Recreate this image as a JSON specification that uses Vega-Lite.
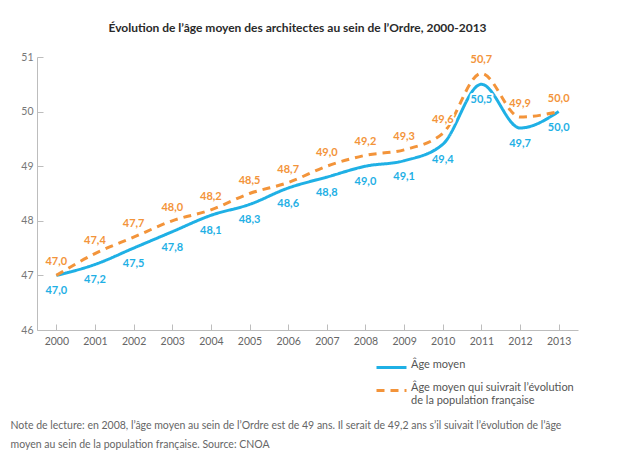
{
  "$schema": "https://vega.github.io/schema/vega-lite/v6.json",
  "width": 541,
  "height": 273,
  "autosize": {"type": "none"},
  "padding": {"left": 37, "top": 57, "right": 42, "bottom": 135},
  "background": "white",
  "title": {
    "text": "Évolution de l’âge moyen des architectes au sein de l’Ordre, 2000-2013",
    "anchor": "middle",
    "dx": -10,
    "offset": 17,
    "font": "Lato",
    "fontSize": 12,
    "fontWeight": "bold",
    "color": "#2a2a2a"
  },
  "config": {
    "view": {"stroke": null},
    "locale": {"number": {"decimal": ",", "thousands": " ", "grouping": [3], "currency": ["", " €"]}},
    "font": "Lato"
  },
  "data": {
    "values": [
      {"annee": "2000", "serie": "Âge moyen", "valeur": 47.0},
      {"annee": "2001", "serie": "Âge moyen", "valeur": 47.2},
      {"annee": "2002", "serie": "Âge moyen", "valeur": 47.5},
      {"annee": "2003", "serie": "Âge moyen", "valeur": 47.8},
      {"annee": "2004", "serie": "Âge moyen", "valeur": 48.1},
      {"annee": "2005", "serie": "Âge moyen", "valeur": 48.3},
      {"annee": "2006", "serie": "Âge moyen", "valeur": 48.6},
      {"annee": "2007", "serie": "Âge moyen", "valeur": 48.8},
      {"annee": "2008", "serie": "Âge moyen", "valeur": 49.0},
      {"annee": "2009", "serie": "Âge moyen", "valeur": 49.1},
      {"annee": "2010", "serie": "Âge moyen", "valeur": 49.4},
      {"annee": "2011", "serie": "Âge moyen", "valeur": 50.5},
      {"annee": "2012", "serie": "Âge moyen", "valeur": 49.7},
      {"annee": "2013", "serie": "Âge moyen", "valeur": 50.0},
      {"annee": "2000", "serie": "Âge moyen qui suivrait l’évolution de la population française", "valeur": 47.0},
      {"annee": "2001", "serie": "Âge moyen qui suivrait l’évolution de la population française", "valeur": 47.4},
      {"annee": "2002", "serie": "Âge moyen qui suivrait l’évolution de la population française", "valeur": 47.7},
      {"annee": "2003", "serie": "Âge moyen qui suivrait l’évolution de la population française", "valeur": 48.0},
      {"annee": "2004", "serie": "Âge moyen qui suivrait l’évolution de la population française", "valeur": 48.2},
      {"annee": "2005", "serie": "Âge moyen qui suivrait l’évolution de la population française", "valeur": 48.5},
      {"annee": "2006", "serie": "Âge moyen qui suivrait l’évolution de la population française", "valeur": 48.7},
      {"annee": "2007", "serie": "Âge moyen qui suivrait l’évolution de la population française", "valeur": 49.0},
      {"annee": "2008", "serie": "Âge moyen qui suivrait l’évolution de la population française", "valeur": 49.2},
      {"annee": "2009", "serie": "Âge moyen qui suivrait l’évolution de la population française", "valeur": 49.3},
      {"annee": "2010", "serie": "Âge moyen qui suivrait l’évolution de la population française", "valeur": 49.6},
      {"annee": "2011", "serie": "Âge moyen qui suivrait l’évolution de la population française", "valeur": 50.7},
      {"annee": "2012", "serie": "Âge moyen qui suivrait l’évolution de la population française", "valeur": 49.9},
      {"annee": "2013", "serie": "Âge moyen qui suivrait l’évolution de la population française", "valeur": 50.0}
    ]
  },
  "encoding": {
    "x": {
      "field": "annee",
      "type": "ordinal",
      "scale": {"type": "point", "padding": 0.5},
      "axis": {
        "labelAngle": 0,
        "domainColor": "#bdbdbd",
        "tickColor": "#bdbdbd",
        "tickSize": -6,
        "labelColor": "#666666",
        "labelFontSize": 10.5,
        "labelPadding": 12,
        "title": [
          "Note de lecture: en 2008, l’âge moyen au sein de l’Ordre est de 49 ans. Il serait de 49,2 ans s’il suivait l’évolution de l’âge",
          "moyen au sein de la population française. Source: CNOA"
        ],
        "titleAnchor": "start",
        "titleAlign": "left",
        "titleBaseline": "top",
        "titleX": -27,
        "titleY": 90,
        "titleFontWeight": "normal",
        "titleFontSize": 10.5,
        "titleColor": "#666666",
        "titleLineHeight": 19
      }
    },
    "y": {
      "field": "valeur",
      "type": "quantitative",
      "scale": {"domain": [46, 51], "nice": false, "zero": false},
      "axis": {
        "values": [46, 47, 48, 49, 50, 51],
        "grid": false,
        "title": null,
        "domainColor": "#bdbdbd",
        "tickColor": "#bdbdbd",
        "tickSize": -6,
        "labelPadding": 10,
        "labelColor": "#777777",
        "labelFontSize": 10.5
      }
    }
  },
  "layer": [
    {
      "mark": {"type": "line", "interpolate": "monotone", "strokeWidth": 3},
      "encoding": {
        "color": {
          "field": "serie",
          "type": "nominal",
          "scale": {"range": ["#1fb0e5", "#f3943a"]},
          "legend": {
            "title": null,
            "orient": "none",
            "legendX": 338,
            "legendY": 294,
            "symbolType": "stroke",
            "symbolSize": 900,
            "symbolStrokeWidth": 3,
            "labelFontSize": 11,
            "labelColor": "#555555",
            "labelOffset": 3,
            "labelBaseline": "alphabetic",
            "rowPadding": -13,
            "labelLimit": 400,
            "labelExpr": "datum.label == 'Âge moyen' ? datum.label : ['Âge moyen qui suivrait l’évolution', ' de la population française']"
          }
        },
        "strokeDash": {
          "field": "serie",
          "type": "nominal",
          "scale": {"range": [[1, 0], [8, 6]]},
          "legend": {
            "title": null,
            "orient": "none",
            "legendX": 338,
            "legendY": 294,
            "symbolType": "stroke",
            "symbolSize": 900,
            "symbolStrokeWidth": 3,
            "labelFontSize": 11,
            "labelColor": "#555555",
            "labelOffset": 3,
            "labelBaseline": "alphabetic",
            "rowPadding": -13,
            "labelLimit": 400,
            "labelExpr": "datum.label == 'Âge moyen' ? datum.label : ['Âge moyen qui suivrait l’évolution', ' de la population française']"
          }
        }
      }
    },
    {
      "transform": [{"filter": "datum.serie == 'Âge moyen'"}],
      "mark": {"type": "text", "dy": 16, "fontSize": 11, "fontWeight": "bold", "color": "white", "stroke": "white", "strokeWidth": 4, "strokeJoin": "round"},
      "encoding": {"text": {"field": "valeur", "type": "quantitative", "format": ".1f"}}
    },
    {
      "transform": [{"filter": "datum.serie != 'Âge moyen'"}],
      "mark": {"type": "text", "dy": -13, "fontSize": 11, "fontWeight": "bold", "color": "white", "stroke": "white", "strokeWidth": 4, "strokeJoin": "round"},
      "encoding": {"text": {"field": "valeur", "type": "quantitative", "format": ".1f"}}
    },
    {
      "transform": [{"filter": "datum.serie == 'Âge moyen'"}],
      "mark": {"type": "text", "dy": 16, "fontSize": 11, "fontWeight": "bold", "color": "#1fb0e5"},
      "encoding": {"text": {"field": "valeur", "type": "quantitative", "format": ".1f"}}
    },
    {
      "transform": [{"filter": "datum.serie != 'Âge moyen'"}],
      "mark": {"type": "text", "dy": -13, "fontSize": 11, "fontWeight": "bold", "color": "#f3943a"},
      "encoding": {"text": {"field": "valeur", "type": "quantitative", "format": ".1f"}}
    }
  ]
}
